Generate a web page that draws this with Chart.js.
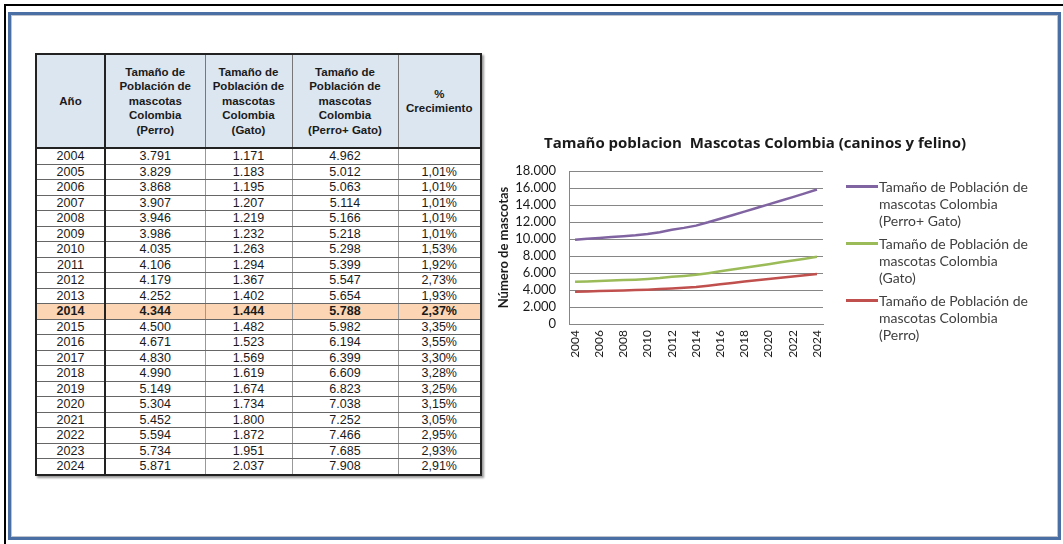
<!DOCTYPE html>
<html>
<head>
<meta charset="utf-8">
<script src="https://cdn.jsdelivr.net/npm/chart.js@4/dist/chart.umd.min.js"></script>
<style>
  html, body { margin:0; padding:0; background:#fff; width:1063px; height:544px; overflow:hidden; }
  .frame { position:absolute; left:4px; top:4px; width:1100px; height:600px; border-top:2px solid #000; border-left:2px solid #000; }
  .box { position:absolute; left:8px; top:12px; width:1047px; height:522px; border:3px solid #4a6fa5; box-shadow: inset 0 0 0 1px #bfc4cc; }
  table { position:absolute; left:35px; top:53px; border-collapse:collapse; font-family:"Liberation Sans", Arial, sans-serif; color:#1a1a1a; box-shadow: 2px 2px 2px #9a9a9a; border:2px solid #222; table-layout:fixed; }
  th { background:#dce6f1; font-size:11.5px; line-height:14.5px; font-weight:bold; height:92px; border:1px solid #777; border-bottom:2px solid #222; padding:0; text-align:center; vertical-align:middle; }
  td { font-size:12.5px; height:14.5px; line-height:14px; padding:0; text-align:center; border:1px solid #666; border-left:1px solid #999; border-right:1px solid #999; }
  td.c0, th.c0 { border-right:2px solid #222; }
  tr.hl td { background:#fcd5b4; font-weight:bold; }
  #chartwrap { position:absolute; left:490px; top:125px; width:530px; height:245px; }
  .leg { position:absolute; left:846px; font-family:Lato, "Open Sans", sans-serif; font-size:14px; line-height:17px; color:#404040; }
  .leg .ln { position:absolute; left:0; top:7px; width:32px; height:3px; }
  .leg .tx { position:absolute; left:33px; top:0; white-space:nowrap; }
</style>
</head>
<body>
<div class="frame"></div>
<div class="box"></div>
<table id="tbl">
  <colgroup><col style="width:69px"><col style="width:100px"><col style="width:87px"><col style="width:106px"><col style="width:83px"></colgroup>
  <thead><tr>
    <th class="c0">Año</th>
    <th>Tamaño de<br>Población de<br>mascotas<br>Colombia<br>(Perro)</th>
    <th>Tamaño de<br>Población de<br>mascotas<br>Colombia<br>(Gato)</th>
    <th>Tamaño de<br>Población de<br>mascotas<br>Colombia<br>(Perro+ Gato)</th>
    <th>%<br>Crecimiento</th>
  </tr></thead>
  <tbody id="tb"></tbody>
</table>
<div id="chartwrap"><canvas id="c"></canvas></div>
<div class="leg" style="top:178px"><div class="ln" style="background:#8064a2"></div><div class="tx">Tamaño de Población de<br>mascotas Colombia<br>(Perro+ Gato)</div></div>
<div class="leg" style="top:235px"><div class="ln" style="background:#9bbb59"></div><div class="tx">Tamaño de Población de<br>mascotas Colombia<br>(Gato)</div></div>
<div class="leg" style="top:292px"><div class="ln" style="background:#c0504d"></div><div class="tx">Tamaño de Población de<br>mascotas Colombia<br>(Perro)</div></div>
<script>
const years = ["2004","2005","2006","2007","2008","2009","2010","2011","2012","2013","2014","2015","2016","2017","2018","2019","2020","2021","2022","2023","2024"];
const perro = [3791,3829,3868,3907,3946,3986,4035,4106,4179,4252,4344,4500,4671,4830,4990,5149,5304,5452,5594,5734,5871];
const gato = [1171,1183,1195,1207,1219,1232,1263,1294,1367,1402,1444,1482,1523,1569,1619,1674,1734,1800,1872,1951,2037];
const perroGato = [4962,5012,5063,5114,5166,5218,5298,5399,5547,5654,5788,5982,6194,6399,6609,6823,7038,7252,7466,7685,7908];
const crecimiento = ["","1,01%","1,01%","1,01%","1,01%","1,01%","1,53%","1,92%","2,73%","1,93%","2,37%","3,35%","3,55%","3,30%","3,28%","3,25%","3,15%","3,05%","2,95%","2,93%","2,91%"];
const highlightYear = "2014";

const fmt = v => String(v).replace(/\B(?=(\d{3})+(?!\d))/g, ".");

const tb = document.getElementById("tb");
years.forEach((y, i) => {
  const tr = document.createElement("tr");
  if (y === highlightYear) tr.className = "hl";
  const cells = [y, fmt(perro[i]), fmt(gato[i]), fmt(perroGato[i]), crecimiento[i]];
  cells.forEach((t, j) => {
    const td = document.createElement("td");
    if (j === 0) td.className = "c0";
    td.textContent = t;
    tr.appendChild(td);
  });
  tb.appendChild(tr);
});

new Chart(document.getElementById("c"), {
  type: "line",
  data: {
    labels: years,
    datasets: [
      { label: "Tamaño de Población de mascotas Colombia (Perro)", data: perro, borderColor: "#c0504d", backgroundColor: "#c0504d", borderWidth: 2.5, pointRadius: 0, fill: false, tension: 0 },
      { label: "Tamaño de Población de mascotas Colombia (Gato)", data: gato, borderColor: "#9bbb59", backgroundColor: "#9bbb59", borderWidth: 2.5, pointRadius: 0, fill: false, tension: 0 },
      { label: "Tamaño de Población de mascotas Colombia (Perro+ Gato)", data: perroGato, borderColor: "#8064a2", backgroundColor: "#8064a2", borderWidth: 2.5, pointRadius: 0, fill: false, tension: 0 }
    ]
  },
  options: {
    responsive: true,
    maintainAspectRatio: false,
    animation: false,
    layout: { padding: 0 },
    plugins: {
      legend: { display: false },
      tooltip: { enabled: false },
      title: {
        display: true,
        text: "Tamaño poblacion  Mascotas Colombia (caninos y felino)",
        color: "#1a1a1a",
        font: { family: "Open Sans", size: 15, weight: "bold" },
        padding: { top: 10, bottom: 18 }
      }
    },
    scales: {
      x: {
        offset: true,
        grid: { display: false, drawTicks: false },
        border: { color: "#868686", width: 1 },
        ticks: {
          autoSkip: false, maxRotation: 90, minRotation: 90, padding: 6,
          color: "#1a1a1a", font: { family: "Lato", size: 12 },
          callback: function(v, i) { return i % 2 === 0 ? this.getLabelForValue(v) : ""; }
        },
        afterFit: s => { s.height = 46; }
      },
      y: {
        stacked: true,
        min: 0, max: 18000,
        grid: { color: "#868686", lineWidth: 1, drawTicks: false },
        border: { color: "#868686", width: 1 },
        ticks: {
          autoSkip: false,
          stepSize: 2000, padding: 13,
          color: "#1a1a1a", font: { family: "Lato", size: 13 },
          callback: v => fmt(v)
        },
        title: {
          display: true, text: "Número de mascotas",
          color: "#1a1a1a", font: { family: "Lato", size: 13, weight: "bold" },
          padding: { top: 6, bottom: 0 }
        },
        afterFit: s => { s.width = 79; }
      },
      yRightSpace: {
        position: "right",
        display: true,
        grid: { display: false, drawTicks: false },
        border: { display: false },
        ticks: { display: false },
        afterFit: s => { s.width = 197; }
      }
    }
  }
});
</script>
</body>
</html>
